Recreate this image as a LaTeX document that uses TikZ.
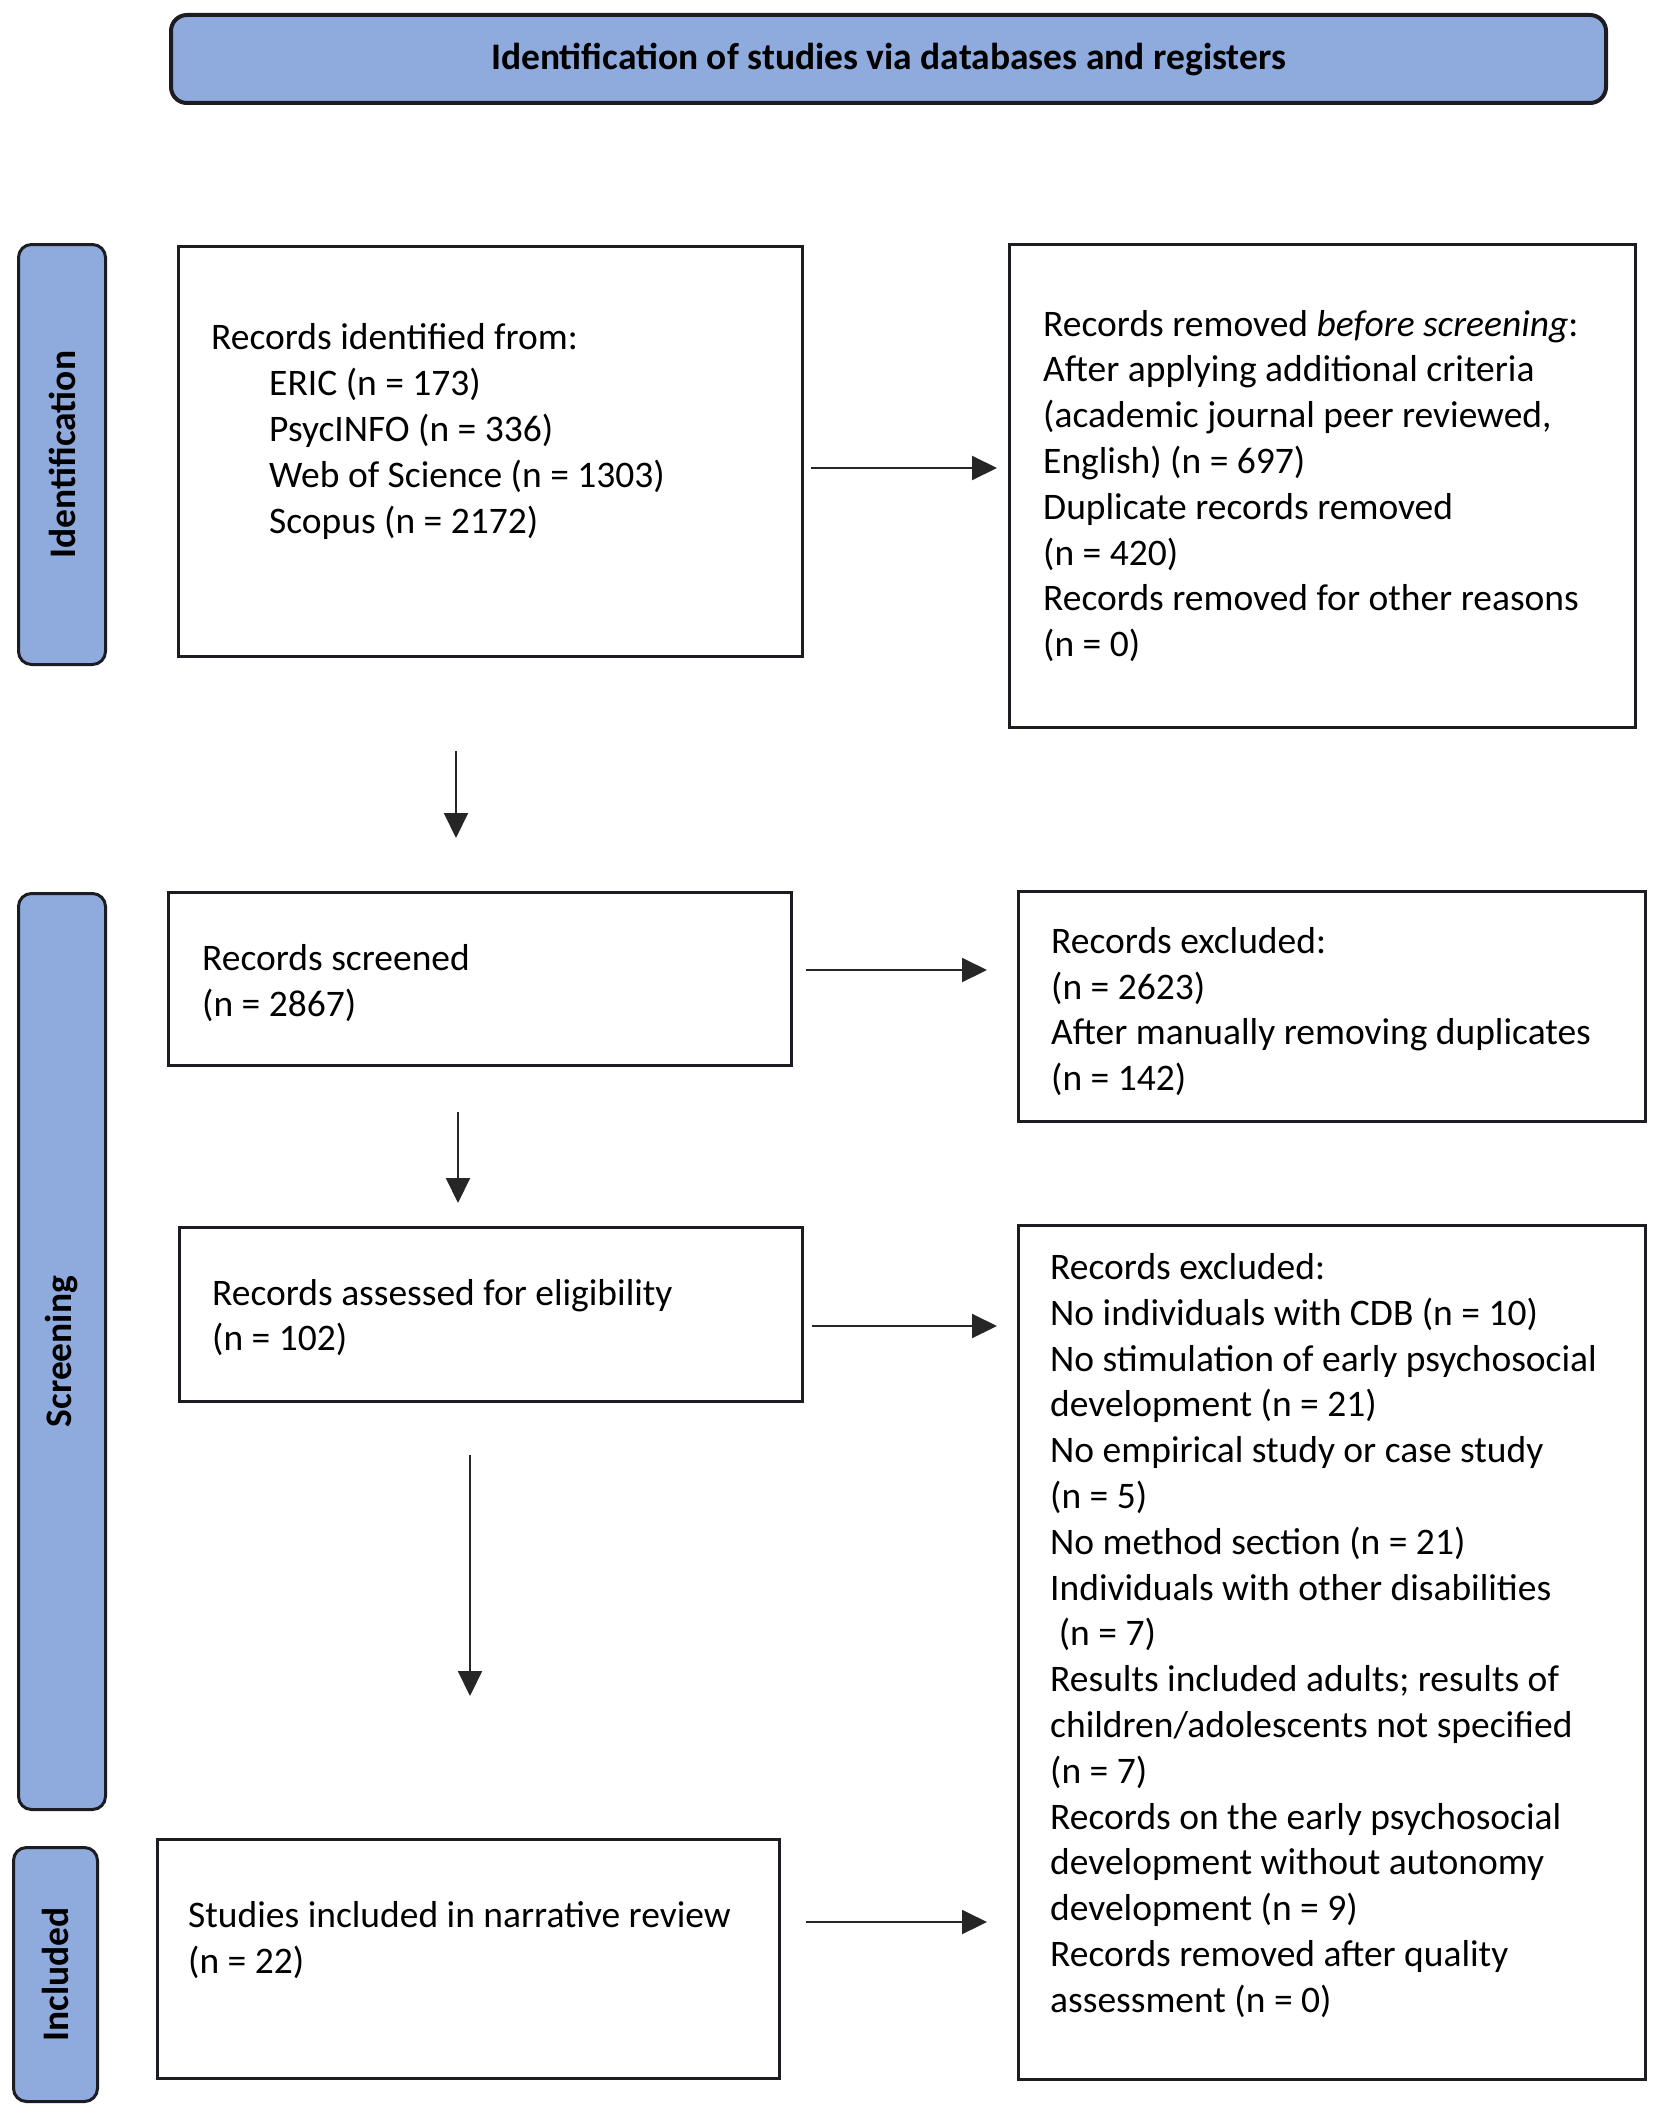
\documentclass[tikz,border=0pt]{standalone}
\usepackage{fontspec}
\setmainfont{Carlito}
\usetikzlibrary{arrows.meta}
\definecolor{prblue}{RGB}{143,170,220}
\definecolor{prline}{RGB}{28,28,34}
\newcommand\prfont{\fontsize{37.5}{45.8}\selectfont}
\begin{document}
\begin{tikzpicture}[x=1pt,y=-1pt, font=\prfont,
  box/.style={draw=prline, line width=3pt, inner sep=0pt, anchor=north west},
  lab/.style={draw=prline, line width=3pt, fill=prblue, rounded corners=13pt, inner sep=0pt, anchor=north west},
  txt/.style={align=left, inner sep=0pt, anchor=west},
  labtxt/.style={font=\prfont\bfseries, rotate=90, inner sep=0pt},
  arr/.style={draw=black!85, line width=2pt, -{Triangle[length=25pt,width=24pt]}}]
\useasboundingbox (0,0) rectangle (1654,2114);

% banner
\node[lab, rounded corners=16pt, line width=4pt, minimum width=1435pt, minimum height=88pt] (ban) at (169,13) {};
\node[font=\prfont\bfseries, inner sep=0pt] (bant) at (ban.center) {Identification of studies via databases and registers};

% side labels
\node[lab, minimum width=87pt, minimum height=420pt] (lab1) at (17,243) {};
\node[labtxt] (lab1t) at (lab1.center) {Identification};
\node[lab, minimum width=87pt, minimum height=916pt] (lab2) at (17,892) {};
\node[labtxt] (lab2t) at (lab2.center) {Screening};
\node[lab, minimum width=84pt, minimum height=254pt] (lab3) at (12,1846) {};
\node[labtxt] (lab3t) at (lab3.center) {Included};

% boxes
\node[box, minimum width=624pt, minimum height=410pt] (b1) at (177,245) {};
\node[txt] (b1t) at ([xshift=34pt,yshift=20pt]b1.west) {Records identified from:\\
\hspace*{58pt}ERIC (n = 173)\\
\hspace*{58pt}PsycINFO (n = 336)\\
\hspace*{58pt}Web of Science (n = 1303)\\
\hspace*{58pt}Scopus (n = 2172)};

\node[box, minimum width=626pt, minimum height=483pt] (b2) at (1008,243) {};
\node[txt] (b2t) at ([xshift=35pt]b2.west) {Records removed \textit{before screening}:\\
After applying additional criteria\\
(academic journal peer reviewed,\\
English) (n = 697)\\
Duplicate records removed\\
(n = 420)\\
Records removed for other reasons\\
(n = 0)};

\node[box, minimum width=623pt, minimum height=173pt] (b3) at (167,891) {};
\node[txt] (b3t) at ([xshift=35pt,yshift=-4pt]b3.west) {Records screened\\(n = 2867)};

\node[box, minimum width=627pt, minimum height=230pt] (b4) at (1017,890) {};
\node[txt] (b4t) at ([xshift=34pt,yshift=-5pt]b4.west) {Records excluded:\\
(n = 2623)\\
After manually removing duplicates\\
(n = 142)};

\node[box, minimum width=623pt, minimum height=174pt] (b5) at (178,1226) {};
\node[txt] (b5t) at ([xshift=34pt,yshift=-3pt]b5.west) {Records assessed for eligibility\\(n = 102)};

\node[box, minimum width=627pt, minimum height=854pt] (b6) at (1017,1224) {};
\node[txt] (b6t) at ([xshift=33pt,yshift=17pt]b6.west) {Records excluded:\\
No individuals with CDB (n = 10)\\
No stimulation of early psychosocial\\
development (n = 21)\\
No empirical study or case study\\
(n = 5)\\
No method section (n = 21)\\
Individuals with other disabilities\\
\hspace*{0.23em}(n = 7)\\
Results included adults; results of\\
children/adolescents not specified\\
(n = 7)\\
Records on the early psychosocial\\
development without autonomy\\
development (n = 9)\\
Records removed after quality\\
assessment (n = 0)};

\node[box, minimum width=622pt, minimum height=239pt] (b7) at (156,1838) {};
\node[txt] (b7t) at ([xshift=32pt,yshift=19pt]b7.west) {Studies included in narrative review\\(n = 22)};

% connector guide coordinates
\coordinate (y1) at (0,468);
\coordinate (x1) at (456,0);
\coordinate (y3) at (0,970);
\coordinate (x2) at (458,0);
\coordinate (y5) at (0,1326);
\coordinate (x3) at (470,0);
\coordinate (y7) at (0,1922);

\draw[arr, shorten <=7pt, shorten >=11pt] (b1.east |- y1) -- (b2.west |- y1);
\draw[arr, shorten <=93pt, shorten >=53pt] (b1.south -| x1) -- (b3.north -| x1);
\draw[arr, shorten <=13pt, shorten >=30pt] (b3.east |- y3) -- (b4.west |- y3);
\draw[arr, shorten <=45pt, shorten >=23pt] (b3.south -| x2) -- (b5.north -| x2);
\draw[arr, shorten <=8pt, shorten >=20pt] (b5.east |- y5) -- (b6.west |- y5);
\draw[arr, shorten <=52pt, shorten >=142pt] (b5.south -| x3) -- (b7.north -| x3);
\draw[arr, shorten <=25pt, shorten >=30pt] (b7.east |- y7) -- (b6.west |- y7);
\end{tikzpicture}
\end{document}
